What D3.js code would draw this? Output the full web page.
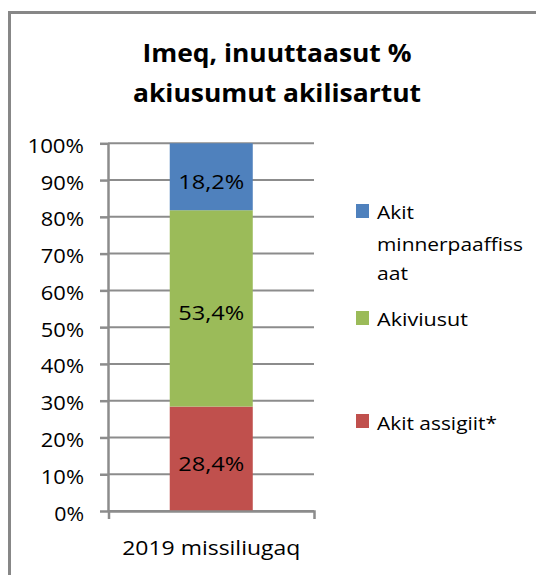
<!DOCTYPE html>
<html><head><meta charset="utf-8">
<script src="https://cdn.jsdelivr.net/npm/d3@7"></script>
<style>body{margin:0;background:#fff}svg{display:block}text{font-family:"Open Sans",sans-serif;fill:#000;font-variant-ligatures:none;font-feature-settings:"liga" 0}</style>
</head><body><svg id="c" width="536" height="575"></svg>
<script>
const categories = ["2019 missiliugaq"];
const seriesNames = ["Akit assigiit*", "Akiviusut", "Akit minnerpaaffissaat"];
const seriesValues = [28.4, 53.4, 18.2];
const seriesColors = ["#c0504d", "#9bbb59", "#4f81bd"];
const valueLabels = ["28,4%", "53,4%", "18,2%"];
const tickValues = [0, 10, 20, 30, 40, 50, 60, 70, 80, 90, 100];
const tickLabels = ["0%", "10%", "20%", "30%", "40%", "50%", "60%", "70%", "80%", "90%", "100%"];
const titleLines = ["Imeq, inuuttaasut %", "akiusumut akilisartut"];
const legendLines = [["Akit", "minnerpaaffiss", "aat"], ["Akiviusut"], ["Akit assigiit*"]];

const svg = d3.select("#c");
// chart border (cropped)
svg.append("rect").attr("x", 9.5).attr("y", 12.5).attr("width", 700).attr("height", 700)
  .attr("fill", "#fff").attr("stroke", "#878787").attr("stroke-width", 3);

const y = d3.scaleLinear().domain([0, 100]).range([511, 143.3]);
const x = d3.scaleBand().domain(categories).range([108.5, 314]).paddingInner(0.4245).paddingOuter(0.4245);

// title
const tl = [269, 288], tb = [62, 102];
svg.selectAll("text.title").data(titleLines).join("text").attr("class", "title")
  .attr("x", 277).attr("y", (d, i) => tb[i]).attr("text-anchor", "middle")
  .attr("font-size", 25).attr("font-weight", "bold")
  .attr("textLength", (d, i) => tl[i]).attr("lengthAdjust", "spacingAndGlyphs").text(d => d);

// gridlines
svg.append("g").selectAll("line").data(tickValues).join("line")
  .attr("x1", 108).attr("x2", 314).attr("y1", d => y(d)).attr("y2", d => y(d))
  .attr("stroke", "#8c8c8c").attr("stroke-width", 2);

// stacked bar
let acc = 0;
const stack = seriesValues.map((v, i) => { const s = { i, y0: acc, y1: acc + v }; acc += v; return s; });
const bars = svg.append("g");
categories.forEach(c => {
  bars.selectAll("rect").data(stack).join("rect")
    .attr("x", x(c)).attr("width", x.bandwidth())
    .attr("y", d => y(d.y1)).attr("height", d => y(d.y0) - y(d.y1))
    .attr("fill", d => seriesColors[d.i]);
  bars.selectAll("text").data(stack).join("text")
    .attr("x", x(c) + x.bandwidth() / 2).attr("y", d => (y(d.y0) + y(d.y1)) / 2 + 12)
    .attr("text-anchor", "middle").attr("font-size", 20)
    .attr("textLength", 66).attr("lengthAdjust", "spacingAndGlyphs")
    .text(d => valueLabels[d.i]);
});

// y axis
const ya = svg.append("g").attr("transform", "translate(108,0)")
  .call(d3.axisLeft(y).tickValues(tickValues).tickFormat((d, i) => tickLabels[i]).tickSize(8).tickSizeOuter(0).tickPadding(16));
ya.selectAll("path,line").attr("stroke", "#8c8c8c").attr("stroke-width", 2.5);
ya.selectAll("text").attr("font-size", 20.5).attr("font-family", "Open Sans").attr("fill", "#000")
  .attr("dy", "0.44em").attr("textLength", d => tickLabels[tickValues.indexOf(d)].length * 13.4 + 3)
  .attr("lengthAdjust", "spacingAndGlyphs");

// x axis
const xa = svg.append("g").attr("transform", "translate(0,511)")
  .call(d3.axisBottom(x).tickSize(0).tickSizeOuter(8));
xa.selectAll("path").attr("stroke", "#8c8c8c").attr("stroke-width", 2.5);
xa.selectAll("text").attr("font-size", 20.5).attr("font-family", "Open Sans").attr("fill", "#000")
  .attr("y", 44).attr("dy", 0).attr("textLength", 178).attr("lengthAdjust", "spacingAndGlyphs");

// legend (top to bottom: blue, green, red)
const legOrder = [2, 1, 0];
const sqY = [204, 311, 414];
const lineY = [[219, 251, 280], [326], [430]];
const lineW = [[37, 146, 31], [91], [120]];
const leg = svg.append("g");
legOrder.forEach((si, k) => {
  leg.append("rect").attr("x", 356).attr("y", sqY[k]).attr("width", 13).attr("height", 14)
    .attr("fill", seriesColors[si]);
  leg.selectAll("text.l" + k).data(legendLines[k]).join("text").attr("class", "l" + k)
    .attr("x", 377).attr("y", (d, j) => lineY[k][j]).attr("font-size", 18.5)
    .attr("textLength", (d, j) => lineW[k][j]).attr("lengthAdjust", "spacingAndGlyphs")
    .text(d => d);
});
</script></body></html>
